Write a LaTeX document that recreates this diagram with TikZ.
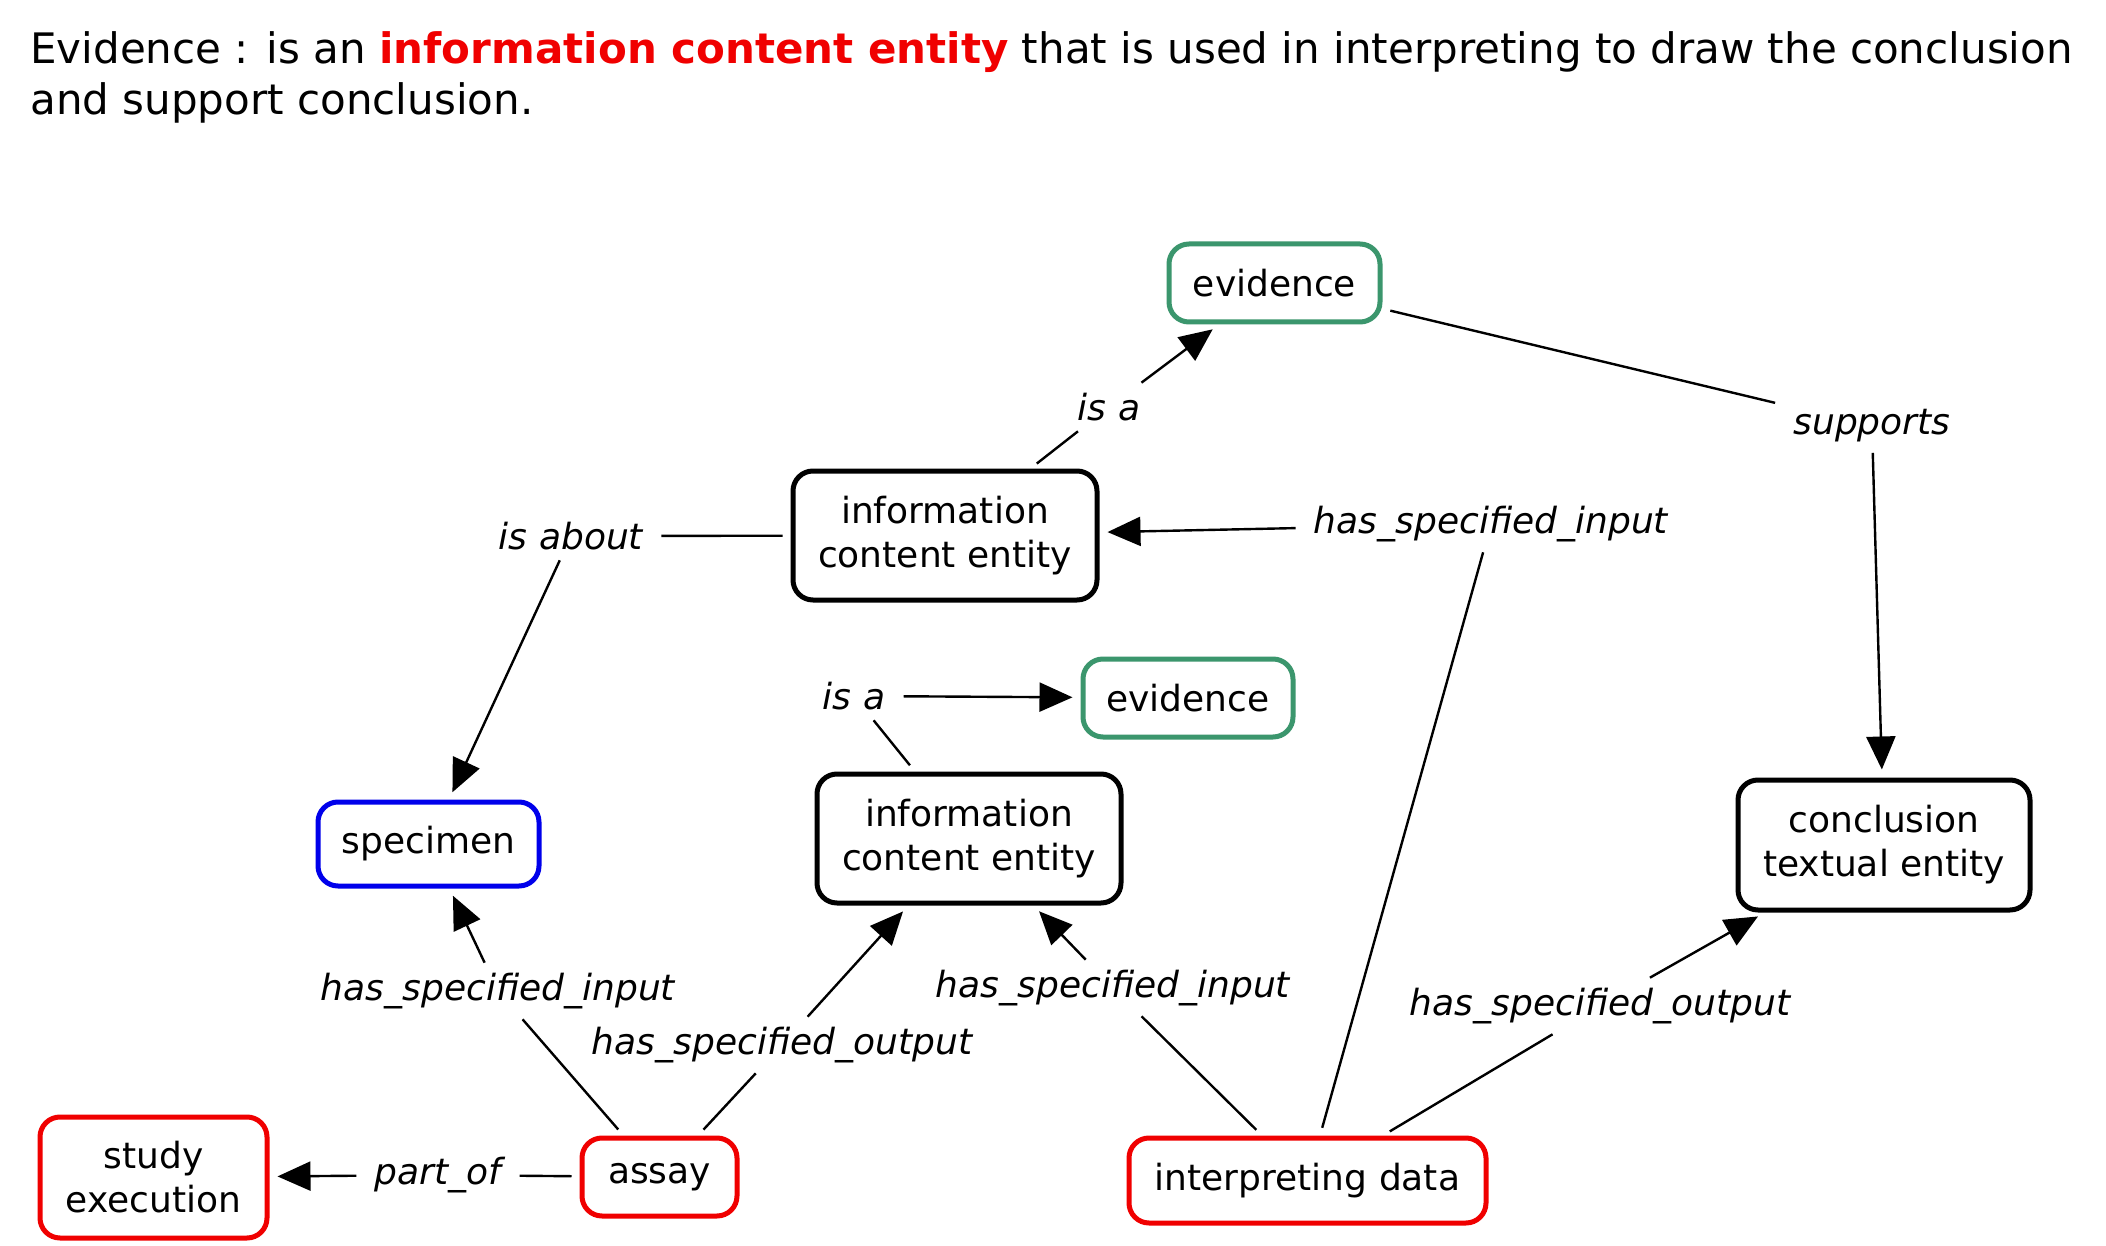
\documentclass[tikz,border=0pt]{standalone}
\usepackage{fontspec}
\setmainfont{DejaVu Sans}
\usetikzlibrary{arrows.meta}
\definecolor{evgreen}{RGB}{59,150,109}
\definecolor{spblue}{RGB}{0,0,235}
\definecolor{procred}{RGB}{240,0,0}
\definecolor{titlered}{RGB}{240,0,0}
\begin{document}
\begin{tikzpicture}[x=0.5pt,y=-0.5pt,
  box/.style={draw, rounded corners=10pt, line width=2.5pt, align=center,
    font=\fontsize{18}{22}\selectfont, inner sep=0pt},
  rel/.style={font=\itshape\fontsize{18}{22}\selectfont, inner xsep=9pt, inner ysep=5pt},
  link/.style={line width=1.2pt, shorten <=4pt},
  arr/.style={line width=1.2pt, shorten >=4pt, -{Triangle[length=16.5pt,width=14.5pt]}},
  titletext/.style={anchor=base west, inner sep=0pt, font=\fontsize{21}{25}\selectfont}
]
\useasboundingbox[fill=white] (0,0) rectangle (2106,1246);

% title
\node[titletext] (t1) at (30,64) {Evidence : is an \textcolor{titlered}{\bfseries information content entity} that is used in interpreting to draw the conclusion};
\node[titletext] (t2) at (30,115) {and support conclusion.};

% concept boxes
\node[box, draw=evgreen, minimum width=105.5pt, minimum height=39pt] (ev1) at (1274.5,283) {evidence};
\node[box, minimum width=152pt, minimum height=64.5pt] (ice1) at (945,535.5) {information\\content entity};
\node[box, draw=evgreen, minimum width=105pt, minimum height=39pt] (ev2) at (1188,698) {evidence};
\node[box, minimum width=152pt, minimum height=64.5pt] (ice2) at (969,838.5) {information\\content entity};
\node[box, draw=spblue, minimum width=110.5pt, minimum height=42pt] (spec) at (428.5,844) {specimen};
\node[box, minimum width=146pt, minimum height=65pt] (concl) at (1884,845) {conclusion\\textual entity};
\node[box, draw=procred, minimum width=113.5pt, minimum height=60.5pt] (study) at (153.5,1177.5) {study\\execution};
\node[box, draw=procred, minimum width=77.5pt, minimum height=39pt] (assay) at (659.5,1177) {assay};
\node[box, draw=procred, minimum width=178.5pt, minimum height=42.5pt] (interp) at (1307.5,1180.5) {interpreting data};

% relation labels
\node[rel] (isa1) at (1109,407) {is a};
\node[rel] (supp) at (1872,426) {supports};
\node[rel] (hsi1) at (1491,524) {has\_specified\_input};
\node[rel] (about) at (571,536) {is about};
\node[rel] (isa2) at (854,696) {is a};
\node[rel] (hsi2) at (498,991) {has\_specified\_input};
\node[rel] (hso1) at (782,1045) {has\_specified\_output};
\node[rel] (hsi3) at (1113,988) {has\_specified\_input};
\node[rel] (hso2) at (1600,1006) {has\_specified\_output};
\node[rel] (partof) at (438,1175) {part\_of};

% connectors
\draw[link] (ice1) -- (isa1);   \draw[arr] (isa1) -- (ev1);
\draw[link] (ev1) -- (supp);    \draw[arr] (supp) -- (concl);
\draw[link] (interp) -- (hsi1); \draw[arr] (hsi1) -- (ice1);
\draw[link] (ice1) -- (about);  \draw[arr] (about) -- (spec);
\draw[link] (ice2) -- (isa2);   \draw[arr] (isa2) -- (ev2);
\draw[link] (assay) -- (hsi2);  \draw[arr] (hsi2) -- (spec);
\draw[link] (assay) -- (hso1);  \draw[arr] (hso1) -- (ice2);
\draw[link] (interp) -- (hsi3); \draw[arr] (hsi3) -- (ice2);
\draw[link] (interp) -- (hso2); \draw[arr] (hso2) -- (concl);
\draw[link] (assay) -- (partof); \draw[arr] (partof) -- (study);
\end{tikzpicture}
\end{document}
